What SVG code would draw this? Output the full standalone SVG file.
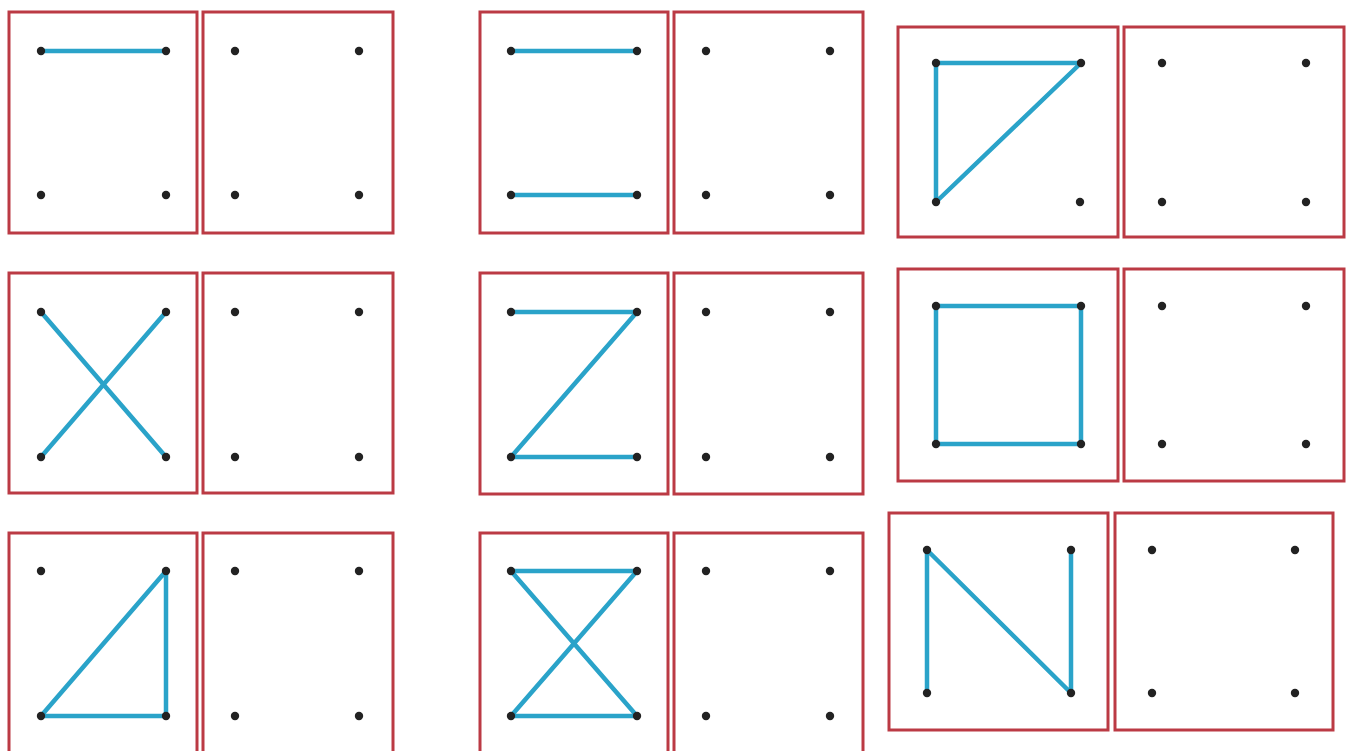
<svg xmlns="http://www.w3.org/2000/svg" width="1349" height="751" viewBox="0 0 1349 751">
<style>
.b{fill:none;stroke:#bb3a44;stroke-width:3}
.l{fill:none;stroke:#2aa3c9;stroke-width:4.5;stroke-linecap:round;stroke-linejoin:round}
.d{fill:#222}
</style>
<rect width="1349" height="751" fill="#ffffff"/>
<g id="connectors">
<line class="l" x1="41" y1="51" x2="166" y2="51"/>
<line class="l" x1="511" y1="51" x2="637" y2="51"/>
<line class="l" x1="511" y1="195" x2="637" y2="195"/>
<polyline class="l" points="936,202 936,63 1081,63 936,202"/>
<line class="l" x1="41" y1="312" x2="166" y2="457"/>
<line class="l" x1="166" y1="312" x2="41" y2="457"/>
<polyline class="l" points="511,312 637,312 511,457 637,457"/>
<rect class="l" x="936" y="306" width="145" height="138"/>
<polygon class="l" points="166,571 41,716 166,716"/>
<polygon class="l" points="511,571 637,571 511,716 637,716"/>
<polyline class="l" points="927,693 927,550 1071,693 1071,550"/>
</g>
<g id="r1c1"><rect class="b" x="9" y="12" width="188" height="221"/>
<circle class="d" cx="41" cy="51" r="4.2"/><circle class="d" cx="166" cy="51" r="4.2"/><circle class="d" cx="41" cy="195" r="4.2"/><circle class="d" cx="166" cy="195" r="4.2"/></g>
<g id="r1c2"><rect class="b" x="203" y="12" width="190" height="221"/>
<circle class="d" cx="235" cy="51" r="4.2"/><circle class="d" cx="359" cy="51" r="4.2"/><circle class="d" cx="235" cy="195" r="4.2"/><circle class="d" cx="359" cy="195" r="4.2"/></g>
<g id="r1c3"><rect class="b" x="480" y="12" width="188" height="221"/>
<circle class="d" cx="511" cy="51" r="4.2"/><circle class="d" cx="637" cy="51" r="4.2"/><circle class="d" cx="511" cy="195" r="4.2"/><circle class="d" cx="637" cy="195" r="4.2"/></g>
<g id="r1c4"><rect class="b" x="674" y="12" width="189" height="221"/>
<circle class="d" cx="706" cy="51" r="4.2"/><circle class="d" cx="830" cy="51" r="4.2"/><circle class="d" cx="706" cy="195" r="4.2"/><circle class="d" cx="830" cy="195" r="4.2"/></g>
<g id="r1c5"><rect class="b" x="898" y="27" width="220" height="210"/>
<circle class="d" cx="936" cy="63" r="4.2"/><circle class="d" cx="1081" cy="63" r="4.2"/><circle class="d" cx="936" cy="202" r="4.2"/><circle class="d" cx="1080" cy="202" r="4.2"/></g>
<g id="r1c6"><rect class="b" x="1124" y="27" width="220" height="210"/>
<circle class="d" cx="1162" cy="63" r="4.2"/><circle class="d" cx="1306" cy="63" r="4.2"/><circle class="d" cx="1162" cy="202" r="4.2"/><circle class="d" cx="1306" cy="202" r="4.2"/></g>

<g id="r2c1"><rect class="b" x="9" y="273" width="188" height="220"/>
<circle class="d" cx="41" cy="312" r="4.2"/><circle class="d" cx="166" cy="312" r="4.2"/><circle class="d" cx="41" cy="457" r="4.2"/><circle class="d" cx="166" cy="457" r="4.2"/></g>
<g id="r2c2"><rect class="b" x="203" y="273" width="190" height="220"/>
<circle class="d" cx="235" cy="312" r="4.2"/><circle class="d" cx="359" cy="312" r="4.2"/><circle class="d" cx="235" cy="457" r="4.2"/><circle class="d" cx="359" cy="457" r="4.2"/></g>
<g id="r2c3"><rect class="b" x="480" y="273" width="188" height="221"/>
<circle class="d" cx="511" cy="312" r="4.2"/><circle class="d" cx="637" cy="312" r="4.2"/><circle class="d" cx="511" cy="457" r="4.2"/><circle class="d" cx="637" cy="457" r="4.2"/></g>
<g id="r2c4"><rect class="b" x="674" y="273" width="189" height="221"/>
<circle class="d" cx="706" cy="312" r="4.2"/><circle class="d" cx="830" cy="312" r="4.2"/><circle class="d" cx="706" cy="457" r="4.2"/><circle class="d" cx="830" cy="457" r="4.2"/></g>
<g id="r2c5"><rect class="b" x="898" y="269" width="220" height="212"/>
<circle class="d" cx="936" cy="306" r="4.2"/><circle class="d" cx="1081" cy="306" r="4.2"/><circle class="d" cx="936" cy="444" r="4.2"/><circle class="d" cx="1081" cy="444" r="4.2"/></g>
<g id="r2c6"><rect class="b" x="1124" y="269" width="220" height="212"/>
<circle class="d" cx="1162" cy="306" r="4.2"/><circle class="d" cx="1306" cy="306" r="4.2"/><circle class="d" cx="1162" cy="444" r="4.2"/><circle class="d" cx="1306" cy="444" r="4.2"/></g>

<g id="r3c1"><rect class="b" x="9" y="533" width="188" height="230"/>
<circle class="d" cx="41" cy="571" r="4.2"/><circle class="d" cx="166" cy="571" r="4.2"/><circle class="d" cx="41" cy="716" r="4.2"/><circle class="d" cx="166" cy="716" r="4.2"/></g>
<g id="r3c2"><rect class="b" x="203" y="533" width="190" height="230"/>
<circle class="d" cx="235" cy="571" r="4.2"/><circle class="d" cx="359" cy="571" r="4.2"/><circle class="d" cx="235" cy="716" r="4.2"/><circle class="d" cx="359" cy="716" r="4.2"/></g>
<g id="r3c3"><rect class="b" x="480" y="533" width="188" height="230"/>
<circle class="d" cx="511" cy="571" r="4.2"/><circle class="d" cx="637" cy="571" r="4.2"/><circle class="d" cx="511" cy="716" r="4.2"/><circle class="d" cx="637" cy="716" r="4.2"/></g>
<g id="r3c4"><rect class="b" x="674" y="533" width="189" height="230"/>
<circle class="d" cx="706" cy="571" r="4.2"/><circle class="d" cx="830" cy="571" r="4.2"/><circle class="d" cx="706" cy="716" r="4.2"/><circle class="d" cx="830" cy="716" r="4.2"/></g>
<g id="r3c5"><rect class="b" x="889" y="513" width="219" height="217"/>
<circle class="d" cx="927" cy="550" r="4.2"/><circle class="d" cx="1071" cy="550" r="4.2"/><circle class="d" cx="927" cy="693" r="4.2"/><circle class="d" cx="1071" cy="693" r="4.2"/></g>
<g id="r3c6"><rect class="b" x="1115" y="513" width="218" height="217"/>
<circle class="d" cx="1152" cy="550" r="4.2"/><circle class="d" cx="1295" cy="550" r="4.2"/><circle class="d" cx="1152" cy="693" r="4.2"/><circle class="d" cx="1295" cy="693" r="4.2"/></g>
</svg>
